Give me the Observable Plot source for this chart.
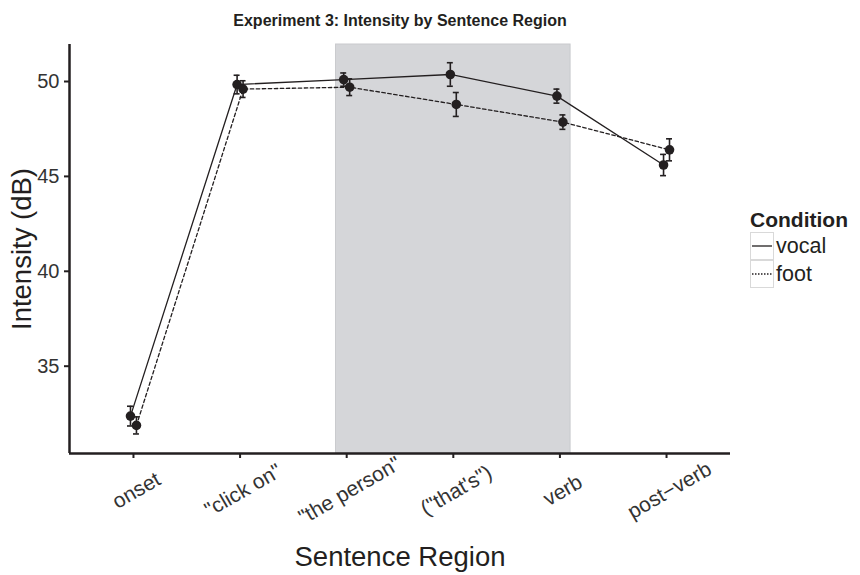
<!DOCTYPE html>
<html>
<head>
<meta charset="utf-8">
<script src="https://cdn.jsdelivr.net/npm/d3@7"></script>
<script src="https://cdn.jsdelivr.net/npm/@observablehq/plot@0.6"></script>
<style>
  body { margin: 0; background: #fff; }
  #wrap { position: relative; width: 860px; height: 575px; font-family: "Liberation Sans", Arial, sans-serif; color: #231f20; }
  #legend { position: absolute; left: 750px; top: 208px; }
  #legend .ttl { font-weight: bold; font-size: 21px; line-height: 24px; }
  #legend .row { display: flex; align-items: center; height: 28px; font-size: 21.5px; }
  #legend svg { display: block; margin-right: 2px; }
</style>
</head>
<body>
<div id="wrap">
  <div id="chart"></div>
  <div id="legend"></div>
</div>
<script>
const title = "Experiment 3: Intensity by Sentence Region";
const xTitle = "Sentence Region";
const yTitle = "Intensity (dB)";
const regions = ["onset", "\"click on\"", "\"the person\"", "(\"that's\")", "verb", "post\u2212verb"];
const conditions = ["vocal", "foot"];
const vocalMean = [32.37, 49.84, 50.10, 50.37, 49.23, 45.60];
const vocalSE   = [0.52, 0.49, 0.35, 0.62, 0.37, 0.56];
const footMean  = [31.88, 49.60, 49.70, 48.79, 47.86, 46.40];
const footSE    = [0.45, 0.44, 0.44, 0.63, 0.38, 0.58];
const shadedRegions = ["\"the person\"", "verb"];
const yTicks = [35, 40, 45, 50];

const ink = "#231f20";
const dodge = 0.028;
const dash = {vocal: null, foot: "3.5,2.5"};

const rows = [];
regions.forEach((r, i) => {
  rows.push({region: r, cond: "vocal", x: i + 1 - dodge, mean: vocalMean[i], lo: vocalMean[i] - vocalSE[i], hi: vocalMean[i] + vocalSE[i]});
  rows.push({region: r, cond: "foot", x: i + 1 + dodge, mean: footMean[i], lo: footMean[i] - footSE[i], hi: footMean[i] + footSE[i]});
});
const shade = [{x1: regions.indexOf(shadedRegions[0]) + 1 - 0.1, x2: regions.indexOf(shadedRegions[1]) + 1 + 0.1}];
const xDomain = [0.4, regions.length + 0.6];
const yDomain = [30.40, 51.95];
const xTicks = regions.map((r, i) => i + 1);

const chart = Plot.plot({
  width: 860,
  height: 575,
  marginLeft: 69,
  marginRight: 130,
  marginTop: 44,
  marginBottom: 122,
  style: {fontFamily: "Liberation Sans, Arial, sans-serif", color: ink, background: "#fff"},
  x: {domain: xDomain, axis: null},
  y: {domain: yDomain, axis: null},
  marks: [
    Plot.rect(shade, {x1: "x1", x2: "x2", fill: "#d5d6d9", stroke: "#c9cacd", strokeWidth: 1}),
    ...conditions.map(c => Plot.line(rows.filter(d => d.cond === c), {x: "x", y: "mean", stroke: ink, strokeWidth: 1.3, strokeDasharray: dash[c]})),
    Plot.ruleX(rows, {x: "x", y1: "lo", y2: "hi", stroke: ink, strokeWidth: 1.6}),
    Plot.ruleY(rows, {y: "hi", x1: d => d.x - 0.028, x2: d => d.x + 0.028, stroke: ink, strokeWidth: 1.6}),
    Plot.ruleY(rows, {y: "lo", x1: d => d.x - 0.028, x2: d => d.x + 0.028, stroke: ink, strokeWidth: 1.6}),
    Plot.dot(rows, {x: "x", y: "mean", r: 4.8, fill: ink, stroke: "none"}),
    // axes
    Plot.ruleX([xDomain[0]], {stroke: ink, strokeWidth: 2.5}),
    Plot.ruleY([yDomain[0]], {stroke: ink, strokeWidth: 2.5}),
    Plot.axisY({ticks: yTicks, tickSize: 5, tickPadding: 5, fontSize: 20, stroke: ink, strokeWidth: 2, label: null, color: "#333"}),
    Plot.axisX({ticks: xTicks, tickSize: 5, tickFormat: () => "", stroke: ink, strokeWidth: 2, label: null}),
    Plot.text(regions, {x: (d, i) => i + 1, frameAnchor: "bottom", dy: 37, dx: 3, rotate: -30, fontSize: 21, fill: "#333", textAnchor: "middle", lineAnchor: "middle"}),
    Plot.text([xTitle], {frameAnchor: "bottom", dy: 112, fontSize: 27.5, fill: ink, textAnchor: "middle"}),
    Plot.text([yTitle], {frameAnchor: "left", dx: -47, rotate: -90, fontSize: 27.5, fill: ink, textAnchor: "middle", lineAnchor: "middle"}),
    Plot.text([title], {frameAnchor: "top", dy: -30, fontSize: 16, fontWeight: "bold", fill: ink, textAnchor: "middle"})
  ]
});
document.getElementById("chart").appendChild(chart);

// legend
const legend = document.getElementById("legend");
let html = `<div class="ttl">Condition</div>`;
conditions.forEach(c => {
  html += `<div class="row"><svg width="24" height="28"><rect x="0.5" y="0.5" width="23" height="27" fill="#fff" stroke="#d9d9d9"/><line x1="2" x2="22" y1="14" y2="14" stroke="${ink}" stroke-width="1.3" ${c === "foot" ? 'stroke-dasharray="1.5,1.5"' : ""}/></svg><span>${c}</span></div>`;
});
legend.innerHTML = html;
</script>
</body>
</html>
